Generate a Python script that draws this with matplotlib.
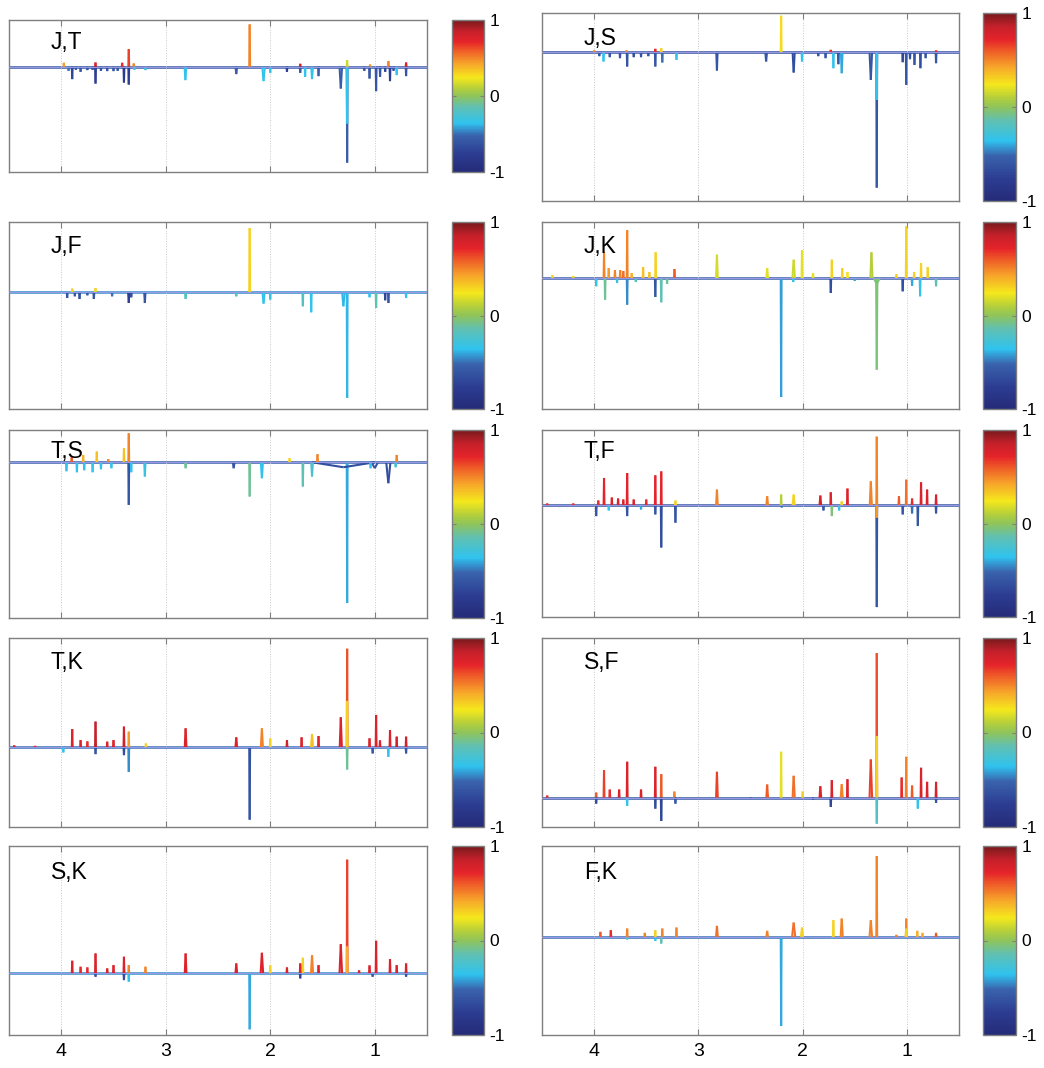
import numpy as np
import matplotlib
matplotlib.use('Agg')
import matplotlib.pyplot as plt
from matplotlib.collections import LineCollection
from matplotlib.colors import LinearSegmentedColormap, Normalize
from matplotlib.cm import ScalarMappable

plt.rcParams['font.family'] = ['Liberation Sans', 'DejaVu Sans']

# peaks per pair: (ppm, covariance, correlation[, half width in ppm])
jt_peaks = [
    (1.264, -0.957, -0.55), (1.264, -0.567, -0.35), (1.264, 0.067, 0.15),
    (2.197, 0.423, 0.50), (3.354, 0.177, 0.65), (3.306, 0.033, 0.5),
    (3.417, 0.04, 0.7), (3.672, 0.043, 0.75), (3.975, 0.04, 0.45),
    (1.713, 0.03, 0.75), (1.045, 0.023, 0.45), (0.869, 0.057, 0.5),
    (0.70, 0.043, 0.75),
    (1.325, -0.217, -0.55, 0.012), (0.987, -0.243, -0.6), (1.05, -0.117, -0.6),
    (0.854, -0.143, -0.75), (0.949, -0.1, -0.6), (0.79, -0.083, -0.35),
    (0.70, -0.093, -0.6), (2.812, -0.133, -0.35, 0.008),
    (2.064, -0.143, -0.35, 0.012), (2.0, -0.06, -0.35),
    (2.325, -0.073, -0.55, 0.008), (1.84, -0.05, -0.75), (1.713, -0.06, -0.6),
    (1.666, -0.1, -0.35), (1.60, -0.123, -0.35, 0.008), (1.538, -0.093, -0.55),
    (3.354, -0.177, -0.75), (3.40, -0.157, -0.8), (3.895, -0.123, -0.7),
    (3.815, -0.05, -0.6), (3.75, -0.033, -0.6), (3.672, -0.167, -0.75),
    (3.56, -0.043, -0.6), (3.50, -0.043, -0.6), (3.194, -0.033, -0.3),
    (3.93, -0.04, -0.5), (3.46, -0.04, -0.6), (3.86, -0.03, -0.6),
    (3.62, -0.04, -0.65), (3.70, -0.03, -0.6), (3.30, -0.03, -0.35),
    (1.10, -0.04, -0.6), (0.90, -0.05, -0.7), (0.82, -0.04, -0.6),
]
js_peaks = [
    (1.289, -1.35, -0.6), (1.289, -0.477, -0.35),
    (2.206, 0.363, 0.28), (3.356, 0.04, 0.3), (3.413, 0.033, 0.7),
    (1.73, 0.023, 0.7), (0.72, 0.017, 0.7), (4.0, 0.017, 0.5), (3.689, 0.017, 0.5),
    (1.346, -0.277, -0.6, 0.012), (1.006, -0.327, -0.6),
    (2.086, -0.203, -0.65, 0.01), (2.006, -0.093, -0.35),
    (2.822, -0.183, -0.6, 0.006), (2.35, -0.093, -0.6, 0.008),
    (1.705, -0.16, -0.35), (1.625, -0.21, -0.4, 0.008), (1.657, -0.12, -0.6),
    (0.87, -0.16, -0.65), (0.72, -0.11, -0.6), (0.927, -0.127, -0.6),
    (1.04, -0.1, -0.7), (3.683, -0.143, -0.6), (3.413, -0.143, -0.6),
    (3.346, -0.103, -0.5), (3.21, -0.077, -0.35), (3.91, -0.093, -0.35),
    (3.752, -0.06, -0.6), (3.85, -0.05, -0.6), (3.55, -0.05, -0.6),
    (1.85, -0.04, -0.6), (1.78, -0.06, -0.6), (3.95, -0.04, -0.6),
    (3.62, -0.05, -0.65), (3.48, -0.04, -0.6), (0.97, -0.07, -0.65),
    (0.82, -0.06, -0.6),
]
jf_peaks = [
    (2.197, 0.643, 0.3), (3.895, 0.037, 0.3), (3.672, 0.043, 0.3),
    (1.264, -1.057, -0.38), (1.30, -0.14, -0.38, 0.012),
    (1.608, -0.2, -0.35), (1.688, -0.14, -0.2),
    (2.064, -0.113, -0.35, 0.01), (2.0, -0.073, -0.3),
    (2.325, -0.04, -0.2, 0.006), (2.81, -0.067, -0.2, 0.006),
    (0.987, -0.157, -0.15), (0.869, -0.107, -0.6), (0.90, -0.08, -0.7),
    (0.70, -0.057, -0.35), (3.354, -0.107, -0.75, 0.006),
    (3.2, -0.107, -0.6, 0.006), (3.943, -0.057, -0.6), (3.825, -0.067, -0.65),
    (3.688, -0.067, -0.6), (3.513, -0.04, -0.5), (1.05, -0.05, -0.35),
    (3.87, -0.04, -0.6), (3.75, -0.03, -0.6), (3.33, -0.05, -0.65),
]
jk_peaks = [
    (2.206, -1.19, -0.42), (1.289, -0.917, -0.05, 0.006),
    (1.289, -0.06, -0.05, 0.03),
    (3.683, -0.267, -0.45), (3.413, -0.19, -0.6), (3.356, -0.243, -0.15),
    (1.73, -0.15, -0.65), (1.04, -0.133, -0.65), (0.873, -0.183, -0.35),
    (0.72, -0.083, -0.15), (3.98, -0.083, -0.35), (3.895, -0.217, -0.1),
    (3.78, -0.05, -0.3), (3.6, -0.04, -0.2), (3.3, -0.06, -0.1),
    (2.09, -0.04, -0.35), (1.5, -0.03, -0.4), (0.95, -0.08, -0.4),
    (3.683, 0.477, 0.5), (3.905, 0.257, 0.5), (1.006, 0.517, 0.3),
    (2.006, 0.277, 0.2), (2.822, 0.233, 0.17, 0.008),
    (2.086, 0.183, 0.15, 0.012), (1.34, 0.257, 0.1, 0.01),
    (1.72, 0.183, 0.3), (3.41, 0.257, 0.3), (2.34, 0.1, 0.2, 0.008),
    (0.864, 0.15, 0.3), (0.80, 0.11, 0.3), (3.229, 0.09, 0.6),
    (3.86, 0.1, 0.45), (3.80, 0.08, 0.5), (3.75, 0.08, 0.5), (3.53, 0.11, 0.35),
    (4.4, 0.03, 0.3), (4.2, 0.02, 0.3), (1.62, 0.1, 0.3), (1.57, 0.06, 0.25),
    (1.9, 0.05, 0.2), (1.1, 0.04, 0.3), (3.72, 0.07, 0.55), (3.64, 0.05, 0.4),
    (3.47, 0.06, 0.35), (0.93, 0.06, 0.3),
]
ts_peaks = [
    (1.264, -1.41, -0.4),
    (1.30, -0.05, -0.65, 0.3), (1.0, -0.06, -0.6, 0.03),
    (0.87, -0.21, -0.65, 0.02),
    (3.354, -0.427, -0.6), (2.197, -0.343, -0.1),
    (2.08, -0.16, -0.35, 0.01), (2.35, -0.06, -0.6, 0.008),
    (1.688, -0.243, -0.15), (1.60, -0.143, -0.25, 0.008),
    (2.81, -0.06, -0.1, 0.006), (3.2, -0.143, -0.3, 0.006),
    (3.95, -0.09, -0.35), (3.85, -0.1, -0.35), (3.78, -0.08, -0.35),
    (3.70, -0.1, -0.35), (3.62, -0.07, -0.35), (3.52, -0.06, -0.35),
    (3.33, -0.1, -0.35), (1.04, -0.06, -0.35), (0.80, -0.05, -0.3),
    (3.354, 0.29, 0.5), (3.40, 0.14, 0.35), (3.66, 0.107, 0.35),
    (3.79, 0.073, 0.4), (1.548, 0.08, 0.5), (0.79, 0.073, 0.5),
    (1.815, 0.04, 0.3), (3.9, 0.05, 0.6), (3.55, 0.03, 0.5),
]
tf_peaks = [
    (1.289, 0.693, 0.5), (3.356, 0.343, 0.72), (3.413, 0.303, 0.72),
    (3.683, 0.327, 0.72), (3.905, 0.277, 0.72), (2.822, 0.16, 0.5, 0.008),
    (1.006, 0.26, 0.55), (0.864, 0.233, 0.75), (0.806, 0.16, 0.75),
    (0.72, 0.11, 0.75), (1.57, 0.17, 0.75), (1.73, 0.133, 0.75),
    (1.83, 0.1, 0.75, 0.008), (1.346, 0.243, 0.5, 0.01),
    (2.086, 0.11, 0.3, 0.01), (2.206, 0.11, 0.1), (2.34, 0.093, 0.5, 0.008),
    (1.625, 0.043, 0.3), (1.076, 0.093, 0.6), (0.95, 0.07, 0.7),
    (3.96, 0.05, 0.7), (3.83, 0.08, 0.75), (3.77, 0.07, 0.75),
    (3.72, 0.06, 0.75), (3.62, 0.06, 0.75), (3.50, 0.06, 0.7),
    (3.22, 0.05, 0.3), (4.45, 0.02, 0.7), (4.2, 0.02, 0.7),
    (1.289, -1.023, -0.6), (1.289, -0.123, 0.45),
    (3.356, -0.423, -0.65), (3.22, -0.173, -0.6), (3.413, -0.09, -0.6),
    (0.895, -0.207, -0.6), (3.683, -0.107, -0.6), (3.98, -0.107, -0.6),
    (1.72, -0.107, -0.05), (1.04, -0.09, -0.6), (0.72, -0.08, -0.6),
    (3.86, -0.05, -0.35), (3.55, -0.04, -0.4), (2.2, -0.02, -0.5),
    (1.8, -0.05, -0.6), (1.65, -0.05, -0.3), (0.95, -0.08, -0.5),
]
tk_peaks = [
    (1.264, 0.983, 0.62), (1.264, 0.463, 0.3),
    (3.672, 0.257, 0.85), (3.40, 0.207, 0.8), (3.354, 0.157, 0.45),
    (3.895, 0.183, 0.75), (2.81, 0.19, 0.75, 0.008), (2.325, 0.1, 0.75, 0.008),
    (2.08, 0.19, 0.5, 0.01), (2.0, 0.09, 0.3), (1.325, 0.3, 0.75, 0.01),
    (0.987, 0.323, 0.75), (0.854, 0.173, 0.75), (0.79, 0.107, 0.8),
    (0.70, 0.107, 0.8), (1.538, 0.113, 0.75), (1.60, 0.133, 0.35, 0.01),
    (1.70, 0.1, 0.75), (1.84, 0.073, 0.8), (1.05, 0.09, 0.75),
    (0.95, 0.07, 0.75), (3.19, 0.04, 0.3), (3.815, 0.073, 0.75),
    (3.56, 0.057, 0.75), (3.50, 0.073, 0.75), (3.75, 0.06, 0.7),
    (4.45, 0.02, 0.75), (4.25, 0.015, 0.75),
    (2.197, -0.72, -0.62), (3.354, -0.243, -0.45), (1.264, -0.22, -0.1),
    (3.40, -0.077, -0.65), (3.672, -0.067, -0.6), (0.87, -0.093, -0.35),
    (1.02, -0.06, -0.6), (0.70, -0.06, -0.6), (3.98, -0.05, -0.35),
]
sf_peaks = [
    (1.289, 1.44, 0.62), (1.289, 0.613, 0.3),
    (2.206, 0.457, 0.2), (3.683, 0.357, 0.75), (3.413, 0.307, 0.75),
    (3.356, 0.233, 0.6), (3.905, 0.273, 0.65), (2.822, 0.257, 0.65, 0.008),
    (1.346, 0.38, 0.65, 0.012), (1.006, 0.407, 0.5), (0.864, 0.297, 0.75),
    (0.806, 0.157, 0.75), (0.72, 0.157, 0.75), (2.086, 0.217, 0.55, 0.01),
    (2.34, 0.13, 0.6, 0.008), (1.57, 0.183, 0.75), (1.72, 0.173, 0.75),
    (1.83, 0.113, 0.75, 0.008), (1.625, 0.133, 0.5, 0.01),
    (1.05, 0.2, 0.7), (0.95, 0.12, 0.6), (2.0, 0.06, 0.3), (3.85, 0.08, 0.7),
    (3.76, 0.08, 0.75), (3.55, 0.08, 0.75), (3.23, 0.06, 0.5),
    (4.45, 0.02, 0.7), (3.98, 0.05, 0.6),
    (1.289, -0.26, -0.2), (3.356, -0.233, -0.7), (3.413, -0.11, -0.65),
    (1.73, -0.093, -0.7), (0.895, -0.11, -0.35), (3.683, -0.083, -0.35),
    (3.98, -0.06, -0.65), (0.72, -0.053, -0.6), (3.22, -0.06, -0.6),
    (1.9, -0.02, -0.6), (2.5, -0.01, -0.6),
]
sk_peaks = [
    (1.264, 1.14, 0.65), (1.264, 0.27, 0.4),
    (1.325, 0.293, 0.75, 0.012), (0.987, 0.327, 0.75),
    (2.81, 0.2, 0.75, 0.008), (3.672, 0.2, 0.75), (3.40, 0.167, 0.75),
    (3.895, 0.127, 0.75), (2.08, 0.207, 0.75, 0.012), (2.325, 0.1, 0.75, 0.008),
    (1.60, 0.183, 0.5, 0.01), (1.688, 0.157, 0.3), (1.713, 0.1, 0.75),
    (1.538, 0.083, 0.75), (1.84, 0.06, 0.75), (2.0, 0.083, 0.3),
    (0.854, 0.143, 0.75), (0.79, 0.083, 0.75), (0.70, 0.1, 0.75),
    (3.354, 0.083, 0.5), (3.194, 0.067, 0.5), (3.815, 0.067, 0.7),
    (3.75, 0.06, 0.7), (3.56, 0.05, 0.75), (3.50, 0.083, 0.75),
    (1.05, 0.08, 0.75), (1.15, 0.03, 0.75),
    (2.197, -0.56, -0.4), (3.40, -0.067, -0.65), (3.354, -0.083, -0.35),
    (3.672, -0.033, -0.6), (1.713, -0.05, -0.7), (1.02, -0.033, -0.6),
    (0.70, -0.033, -0.6),
]
fk_peaks = [
    (2.206, -0.893, -0.4), (3.413, -0.04, -0.35), (3.356, -0.067, -0.15),
    (3.683, -0.027, -0.2), (1.72, -0.017, -0.35),
    (1.289, 0.81, 0.5), (1.346, 0.167, 0.5, 0.012), (1.625, 0.183, 0.5, 0.01),
    (1.705, 0.167, 0.3), (2.086, 0.143, 0.55, 0.015), (2.006, 0.093, 0.3, 0.01),
    (2.822, 0.11, 0.55, 0.008), (2.34, 0.06, 0.5, 0.008),
    (1.006, 0.183, 0.5), (1.006, 0.083, 0.3, 0.006), (0.90, 0.06, 0.4),
    (0.72, 0.04, 0.6), (3.683, 0.083, 0.5), (3.84, 0.067, 0.7),
    (3.94, 0.05, 0.6), (3.413, 0.067, 0.3), (3.346, 0.083, 0.5),
    (3.21, 0.093, 0.5), (3.514, 0.04, 0.5), (0.85, 0.04, 0.4), (1.1, 0.02, 0.5),
]

pair_names = ['J,T', 'J,S', 'J,F', 'J,K', 'T,S', 'T,F', 'T,K', 'S,F', 'S,K', 'F,K']
pair_peaks = [jt_peaks, js_peaks, jf_peaks, jk_peaks, ts_peaks,
              tf_peaks, tk_peaks, sf_peaks, sk_peaks, fk_peaks]
# correlation of the flat part of each trace
base_corr = [-0.6, -0.65, -0.45, -0.55, -0.55, -0.6, -0.5, -0.6, -0.45, -0.5]
y_limits = [(-1.05, 0.467), (-1.483, 0.39), (-1.167, 0.703), (-1.31, 0.56),
            (-1.56, 0.323), (-1.123, 0.76), (-0.793, 1.09), (-0.293, 1.59),
            (-0.617, 1.277), (-0.983, 0.91)]

ppm_ticks = [1, 2, 3, 4]

# muted jet, like the printed colour scale
cmap = LinearSegmentedColormap.from_list('mjet', [
    (0.00, '#252b78'), (0.12, '#2c3d92'), (0.24, '#3a63ad'),
    (0.32, '#2fc3ef'), (0.43, '#62c0b0'), (0.50, '#8fc45a'),
    (0.55, '#b5cf3a'), (0.62, '#f4e81c'), (0.71, '#f7a82a'),
    (0.80, '#ef5b27'), (0.86, '#e5232a'), (0.93, '#c4202a'),
    (1.00, '#761a1c')])
norm = Normalize(-1, 1)

W, H = 1044, 1068
fig = plt.figure(figsize=(W / 100, H / 100), dpi=100)

# pixel boxes (left, top, right, bottom) of each panel
ax_boxes = [(9, 20, 427, 172), (542, 13, 959, 201),
            (9, 222, 427, 409), (542, 222, 959, 409),
            (9, 430, 427, 618), (542, 430, 959, 617),
            (9, 638, 427, 827), (542, 638, 959, 827),
            (9, 846, 427, 1035), (542, 846, 959, 1035)]
label_y = [0.93, 0.928, 0.928, 0.928, 0.945, 0.945, 0.933, 0.933, 0.922, 0.922]


def px_rect(l, t, r, b):
    return [l / W, 1 - b / H, (r - l) / W, (b - t) / H]


frame_col = '#7f7f7f'
for i, (name, peaks) in enumerate(zip(pair_names, pair_peaks)):
    l, t, r, b = ax_boxes[i]
    ax = fig.add_axes(px_rect(l, t, r, b))
    if i % 2 == 0:
        cax = fig.add_axes(px_rect(452, t, 484, b))
    else:
        cax = fig.add_axes(px_rect(983, t, 1016, b))

    # flat part of the trace and the zero reference
    ax.plot([4.5, 0.5], [0, 0], color=cmap(norm(base_corr[i])), lw=1.8, zorder=1)

    segs, cols = [], []
    for p in peaks:
        x, h, c = p[0], p[1], p[2]
        w = p[3] if len(p) > 3 else 0.004
        segs.append([(x + w, 0), (x, h)])
        segs.append([(x, h), (x - w, 0)])
        cols += [cmap(norm(c))] * 2
    lc = LineCollection(segs, colors=cols, linewidths=1.5, zorder=2,
                        capstyle='butt', joinstyle='miter')
    ax.add_collection(lc)
    ax.plot([4.5, 0.5], [0, 0], color='#9a9ae6', lw=0.7, zorder=3)

    ax.set_xlim(4.5, 0.5)
    ax.set_ylim(*y_limits[i])
    ax.set_yticks([])
    ax.set_xticks(ppm_ticks)
    ax.grid(axis='x', color='#c8c8c8', ls=':', lw=0.7)
    ax.tick_params(axis='x', direction='in', length=4, top=True,
                   color=frame_col, labelsize=14, pad=6)
    if i < 8:
        ax.set_xticklabels([])
    for s in ax.spines.values():
        s.set_color(frame_col)
        s.set_linewidth(1.0)
    ax.text(0.1, label_y[i], name, transform=ax.transAxes, va='top', ha='left',
            fontsize=16.5, zorder=5)

    cb = fig.colorbar(ScalarMappable(norm=norm, cmap=cmap), cax=cax)
    cb.set_ticks([-1, 0, 1])
    cb.set_ticklabels(['-1', '0', '1'])
    cb.outline.set_edgecolor(frame_col)
    cb.outline.set_linewidth(1.0)
    cax.tick_params(direction='in', length=3, color=frame_col, labelsize=12.5,
                    left=True, right=True, pad=4)

fig.savefig('out.png', dpi=100)
